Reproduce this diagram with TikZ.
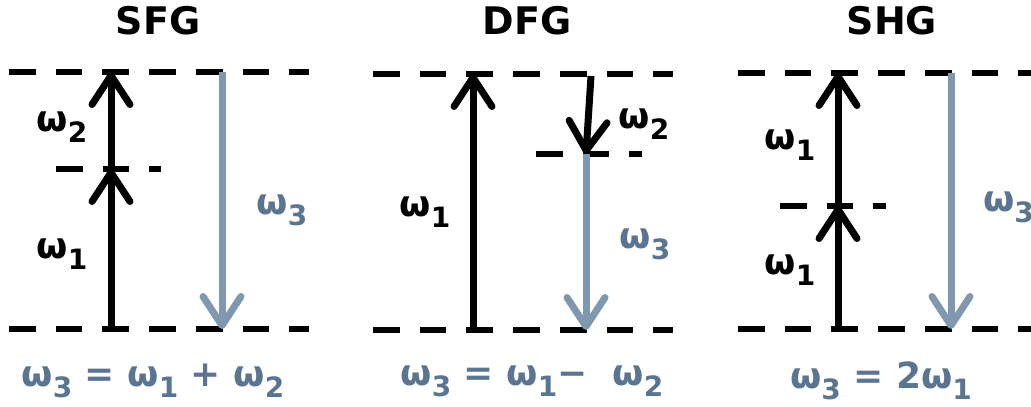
\documentclass[tikz,border=0pt]{standalone}
\usepackage{fontspec}
\setmainfont{DejaVu Sans}
\usetikzlibrary{arrows.meta}
\definecolor{arrowgray}{HTML}{7F97AF}
\definecolor{eqblue}{HTML}{5A7591}
\newcommand{\wsub}[1]{ω\raisebox{-11pt}{\fontsize{28}{28}\selectfont #1}}
\begin{document}
\begin{tikzpicture}[x=1pt,y=-1pt,
  level/.style={line width=6pt, dash pattern=on 26.7pt off 20pt},
  up/.style={line width=7pt, -{Straight Barb[length=29pt,width=38pt,round]}},
  down/.style={line width=7pt, arrowgray, -{Straight Barb[length=29pt,width=38pt,round]}},
  lbl/.style={font=\bfseries\fontsize{36}{40}\selectfont, inner sep=0pt},
  glbl/.style={lbl, text=eqblue},
  title/.style={font=\bfseries\fontsize{38}{42}\selectfont, inner sep=0pt},
  eq/.style={font=\bfseries\fontsize{36}{40}\selectfont, text=eqblue, inner sep=0pt}]
\useasboundingbox (0,0) rectangle (1031,407);
\clip (0,0) rectangle (1031,407);
% ---------- SFG ----------
\node[title] (t1) at (158,21) {SFG};
\coordinate (s-tl) at (9,72);  \coordinate (s-tr) at (309,72);
\coordinate (s-ml) at (56,169); \coordinate (s-mr) at (161,169);
\coordinate (s-bl) at (9,329); \coordinate (s-br) at (309,329);
\draw[level] (s-tl) -- (s-tr);
\draw[level] (s-ml) -- (s-mr);
\draw[level] (s-bl) -- (s-br);
\coordinate (s-a0) at (111,329); \coordinate (s-a1) at (111,169); \coordinate (s-a2) at (111,72);
\draw[up] (s-a0) -- (s-a1);
\draw[up] (s-a1) -- (s-a2);
\coordinate (s-g0) at (222,72); \coordinate (s-g1) at (222,329);
\draw[down] (s-g0) -- (s-g1);
\node[lbl] (s-w2) at (62,127) {\wsub{2}};
\node[lbl] (s-w1) at (62,254) {\wsub{1}};
\node[glbl] (s-w3) at (282,210) {\wsub{3}};
\node[eq] (s-eq) at (153,381) {\wsub{3} = \wsub{1} + \wsub{2}};
% ---------- DFG ----------
\node[title] (t2) at (527,21) {DFG};
\coordinate (d-tl) at (373,74);  \coordinate (d-tr) at (673,74);
\coordinate (d-ml) at (536,154); \coordinate (d-mr) at (642,154);
\coordinate (d-bl) at (373,330); \coordinate (d-br) at (673,330);
\draw[level] (d-tl) -- (d-tr);
\draw[level] (d-ml) -- (d-mr);
\draw[level] (d-bl) -- (d-br);
\coordinate (d-a0) at (473,330); \coordinate (d-a1) at (473,74);
\draw[up] (d-a0) -- (d-a1);
\coordinate (d-b0) at (591,76); \coordinate (d-b1) at (586,154);
\draw[up] (d-b0) -- (d-b1);
\coordinate (d-g1) at (586,330);
\draw[down] (d-b1) -- (d-g1);
\node[lbl] (d-w1) at (425,212) {\wsub{1}};
\node[lbl] (d-w2) at (644,124) {\wsub{2}};
\node[glbl] (d-w3) at (645,244) {\wsub{3}};
\node[eq] (d-eq) at (532,381) {\wsub{3} = \wsub{1}−\ \ \wsub{2}};
% ---------- SHG ----------
\node[title] (t3) at (892,21) {SHG};
\coordinate (h-tl) at (738,73);  \coordinate (h-tr) at (1060,73);
\coordinate (h-ml) at (780,206); \coordinate (h-mr) at (886,206);
\coordinate (h-bl) at (738,329); \coordinate (h-br) at (1060,329);
\draw[level] (h-tl) -- (h-tr);
\draw[level] (h-ml) -- (h-mr);
\draw[level] (h-bl) -- (h-br);
\coordinate (h-a0) at (838,329); \coordinate (h-a1) at (838,206); \coordinate (h-a2) at (838,73);
\draw[up] (h-a0) -- (h-a1);
\draw[up] (h-a1) -- (h-a2);
\coordinate (h-g0) at (951,73); \coordinate (h-g1) at (951,329);
\draw[down] (h-g0) -- (h-g1);
\node[lbl] (h-w1a) at (790,145) {\wsub{1}};
\node[lbl] (h-w1b) at (790,270) {\wsub{1}};
\node[glbl, anchor=west] (h-w3) at (983,207) {\wsub{3}};
\node[eq] (h-eq) at (881,381) {\wsub{3} = 2\wsub{1}};
\end{tikzpicture}
\end{document}
